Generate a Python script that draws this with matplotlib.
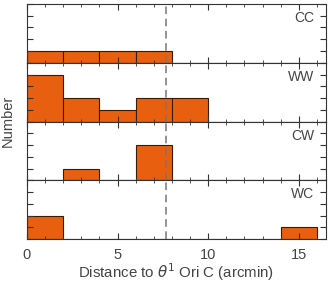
import numpy as np
import matplotlib.pyplot as plt
from matplotlib.ticker import MultipleLocator

# Histogram data (bin left edges, bin width 2 arcmin)
bin_edges = np.arange(0, 16, 2)
grupos = ['CC', 'WW', 'CW', 'WC']
cuentas = {
    'CC': [1, 1, 1, 1, 0, 0, 0, 0],
    'WW': [4, 2, 1, 2, 2, 0, 0, 0],
    'CW': [0, 1, 0, 3, 0, 0, 0, 0],
    'WC': [2, 0, 0, 0, 0, 0, 0, 1],
}
dist_theta1c = 7.67

plt.rcParams['font.family'] = ['Liberation Sans', 'DejaVu Sans']
color_txt = '#444444'

fig, axs = plt.subplots(4, 1, figsize=(3.33, 2.84), dpi=100, sharex=True)
fig.subplots_adjust(left=0.081, right=0.979, top=0.986, bottom=0.158, hspace=0)

for ax, g in zip(axs, grupos):
    ax.bar(bin_edges, cuentas[g], width=2, align='edge',
           color='#e8600f', edgecolor='#3a1a00', linewidth=0.8)
    ax.axvline(dist_theta1c, color='#777777', ls=(0, (5, 3)), lw=1.1)
    ax.set_xlim(0, 16.5)
    ax.set_ylim(0, 5)
    ax.yaxis.set_major_locator(MultipleLocator(1))
    ax.set_yticklabels([])
    ax.xaxis.set_major_locator(MultipleLocator(5))
    ax.xaxis.set_minor_locator(MultipleLocator(1))
    ax.tick_params(axis='both', which='both', direction='in', top=True, right=True,
                   color='#333333', labelcolor=color_txt, labelsize=10.5, pad=6.5)
    ax.tick_params(axis='x', which='major', length=4)
    ax.tick_params(axis='x', which='minor', length=2)
    ax.tick_params(axis='y', length=4)
    for s in ax.spines.values():
        s.set_color('#333333')
        s.set_linewidth(0.8)
    ax.text(0.96, 0.76, g, transform=ax.transAxes, ha='right', va='center',
            fontsize=10, color=color_txt)

axs[-1].set_xlabel(r'Distance to $\theta^1$ Ori C (arcmin)', fontsize=10.8, color=color_txt,
                   labelpad=-0.5)
fig.text(0.024, 0.575, 'Number', rotation=90, ha='center', va='center',
         fontsize=10.5, color=color_txt)

fig.savefig('out.png', dpi=100)
